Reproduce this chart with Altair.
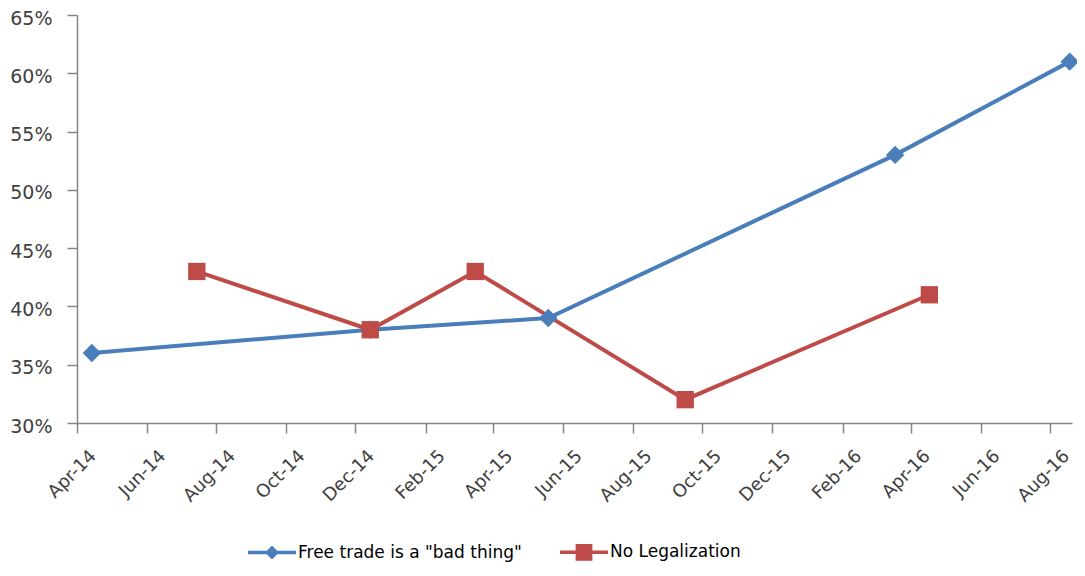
import altair as alt
import pandas as pd

# ---- data ----
series_names = ['Free trade is a "bad thing"', "No Legalization"]

free_trade_dates = ["2014-04-14", "2014-12-14", "2015-05-19", "2016-03-18", "2016-08-18"]
free_trade_values = [0.36, 0.38, 0.39, 0.53, 0.61]

no_legal_dates = ["2014-07-15", "2014-12-14", "2015-03-16", "2015-09-16", "2016-04-17"]
no_legal_values = [0.43, 0.38, 0.43, 0.32, 0.41]

x_tick_months = [(2014, 4), (2014, 6), (2014, 8), (2014, 10), (2014, 12),
                 (2015, 2), (2015, 4), (2015, 6), (2015, 8), (2015, 10), (2015, 12),
                 (2016, 2), (2016, 4), (2016, 6), (2016, 8)]
y_tick_values = [0.30, 0.35, 0.40, 0.45, 0.50, 0.55, 0.60, 0.65]

colors = ["#4A7EBB", "#BE4B48"]

rows = []
for d, v in zip(free_trade_dates, free_trade_values):
    rows.append({"date": d, "value": v, "series": series_names[0]})
for d, v in zip(no_legal_dates, no_legal_values):
    rows.append({"date": d, "value": v, "series": series_names[1]})
df = pd.DataFrame(rows)

x_ticks = [alt.DateTime(year=y, month=m, date=1, utc=True) for y, m in x_tick_months]
x_domain = [alt.DateTime(year=2014, month=4, date=1, utc=True),
            alt.DateTime(year=2016, month=8, date=20, utc=True)]

FONT = "DejaVu Sans"
AXIS_COLOR = "#868686"
LABEL_COLOR = "#404040"

legend_path_expr = (
    "datum.value == 'No Legalization' ? "
    "'M-1,-0.07L1,-0.07L1,0.07L-1,0.07Z M-0.35,-0.35L0.35,-0.35L0.35,0.35L-0.35,0.35Z' : "
    "'M-1,-0.07L1,-0.07L1,0.07L-1,0.07Z M0,-0.29L0.29,0L0,0.29L-0.29,0Z'"
)

x_enc = alt.X(
    "date:T",
    scale=alt.Scale(type="utc", domain=x_domain),
    axis=alt.Axis(
        values=x_ticks, labelExpr="utcFormat(datum.value, '%b-%y')", title=None, grid=False,
        labelAngle=-45, labelAlign="right", labelBaseline="middle",
        labelOffset=16, labelPadding=20, tickSize=10,
        labelFont=FONT, labelFontSize=18, labelColor=LABEL_COLOR,
        domainColor=AXIS_COLOR, tickColor=AXIS_COLOR, domainWidth=1.5, tickWidth=1.5,
        labelOverlap=False, labelFlush=False,
    ),
)
y_enc = alt.Y(
    "value:Q",
    scale=alt.Scale(domain=[0.30, 0.65], nice=False, zero=False),
    axis=alt.Axis(
        values=y_tick_values, format=".0%", title=None, grid=False,
        tickSize=10, labelPadding=15, labelOffset=3,
        labelFont=FONT, labelFontSize=19, labelColor=LABEL_COLOR,
        domainColor=AXIS_COLOR, tickColor=AXIS_COLOR, domainWidth=1.5, tickWidth=1.5,
    ),
)

legend = alt.Legend(
    title=None, orient="none", direction="horizontal",
    legendX=171, legendY=513, padding=0,
    symbolType=alt.ExprRef(legend_path_expr), symbolSize=2304,
    symbolStrokeWidth=0, symbolOpacity=1,
    labelFont=FONT, labelFontSize=17, labelColor="#000000",
    labelOffset=2, columnPadding=38, labelLimit=400,
)
color_enc = alt.Color("series:N", scale=alt.Scale(domain=series_names, range=colors), legend=legend)

lines = alt.Chart(df).mark_line(strokeWidth=4, clip=False).encode(
    x=x_enc, y=y_enc,
    stroke=alt.Stroke("series:N", scale=alt.Scale(range=colors), legend=None),
    detail="series:N",
)

pts_free = alt.Chart(df).transform_filter(
    alt.datum.series == series_names[0]
).mark_point(filled=True, opacity=1, clip=False, shape="diamond", size=340).encode(
    x=x_enc, y=y_enc, color=color_enc,
)
pts_legal = alt.Chart(df).transform_filter(
    alt.datum.series == series_names[1]
).mark_point(filled=True, opacity=1, clip=False, shape="square", size=300).encode(
    x=x_enc, y=y_enc, color=color_enc,
)

chart = alt.layer(lines, pts_free, pts_legal).properties(
    width=995, height=408,
    padding={"left": 69, "top": 7, "right": 5, "bottom": 145},
    autosize=alt.AutoSizeParams(type="none"),
    background="white",
).configure_view(stroke=None)

chart.save("out.html", embed_options={"renderer": "svg", "actions": False})
